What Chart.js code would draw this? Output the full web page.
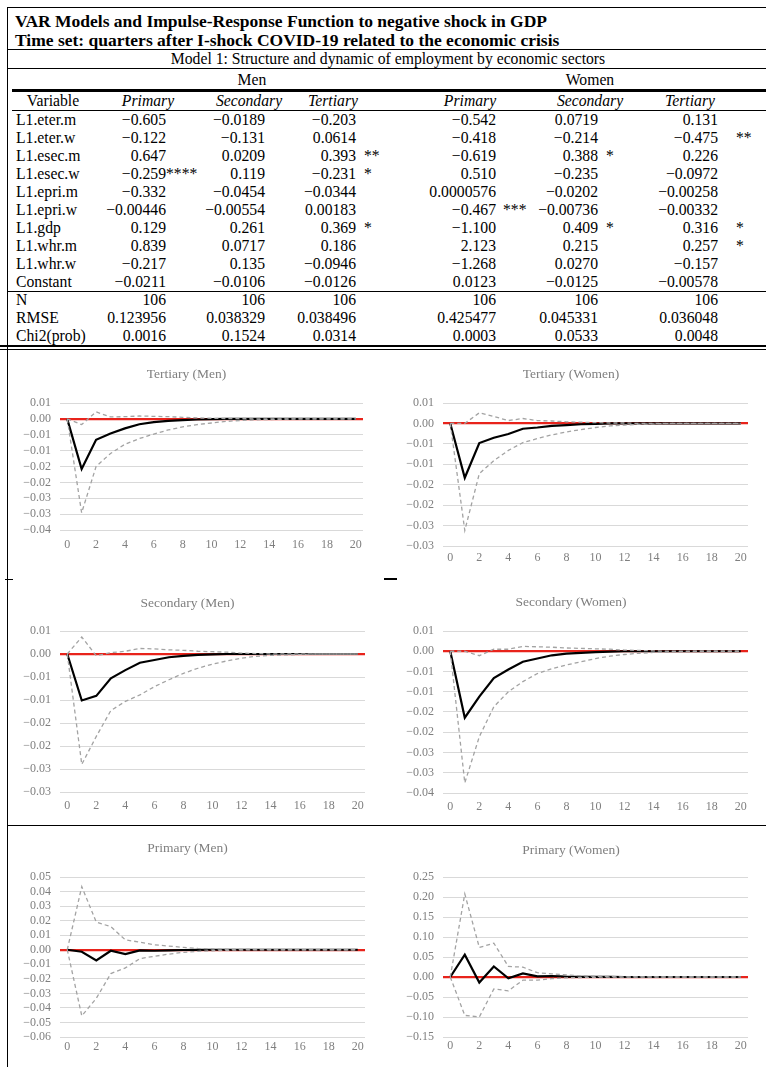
<!DOCTYPE html>
<html>
<head>
<meta charset="utf-8">
<script src="https://cdn.jsdelivr.net/npm/chart.js@4.4.1/dist/chart.umd.min.js"></script>
<style>
  html, body { margin: 0; padding: 0; background: #fff; }
  body { width: 766px; height: 1067px; position: relative; overflow: hidden;
         font-family: "Liberation Serif", "Times New Roman", serif; color: #000; }
  .t { position: absolute; white-space: nowrap; height: 20px; line-height: 20px; }
  .rule { position: absolute; background: #000; }
  canvas { position: absolute; }
</style>
</head>
<body>
<script>
// ---------- regression table ----------
const rowLabels = ["L1.eter.m", "L1.eter.w", "L1.esec.m", "L1.esec.w", "L1.epri.m",
                   "L1.epri.w", "L1.gdp", "L1.whr.m", "L1.whr.w", "Constant"];
const statLabels = ["N", "RMSE", "Chi2(prob)"];
const sectorHeads = ["Primary", "Secondary", "Tertiary", "Primary", "Secondary", "Tertiary"];

const menPrimary     = ["\u22120.605", "\u22120.122", "0.647", "\u22120.259", "\u22120.332", "\u22120.00446", "0.129", "0.839", "\u22120.217", "\u22120.0211"];
const menSecondary   = ["\u22120.0189", "\u22120.131", "0.0209", "0.119", "\u22120.0454", "\u22120.00554", "0.261", "0.0717", "0.135", "\u22120.0106"];
const menTertiary    = ["\u22120.203", "0.0614", "0.393", "\u22120.231", "\u22120.0344", "0.00183", "0.369", "0.186", "\u22120.0946", "\u22120.0126"];
const womenPrimary   = ["\u22120.542", "\u22120.418", "\u22120.619", "0.510", "0.0000576", "\u22120.467", "\u22121.100", "2.123", "\u22121.268", "0.0123"];
const womenSecondary = ["0.0719", "\u22120.214", "0.388", "\u22120.235", "\u22120.0202", "\u22120.00736", "0.409", "0.215", "0.0270", "\u22120.0125"];
const womenTertiary  = ["0.131", "\u22120.475", "0.226", "\u22120.0972", "\u22120.00258", "\u22120.00332", "0.316", "0.257", "\u22120.157", "\u22120.00578"];

const starsMenPrimary     = ["", "", "", "****", "", "", "", "", "", ""];
const starsMenSecondary   = ["", "", "", "", "", "", "", "", "", ""];
const starsMenTertiary    = ["", "", "**", "*", "", "", "*", "", "", ""];
const starsWomenPrimary   = ["", "", "", "", "", "***", "", "", "", ""];
const starsWomenSecondary = ["", "", "*", "", "", "", "*", "", "", ""];
const starsWomenTertiary  = ["", "**", "", "", "", "", "*", "*", "", ""];

const obsN  = ["106", "106", "106", "106", "106", "106"];
const rmse  = ["0.123956", "0.038329", "0.038496", "0.425477", "0.045331", "0.036048"];
const chi2p = ["0.0016", "0.1524", "0.0314", "0.0003", "0.0533", "0.0048"];

// ---------- impulse responses (quarters 0..20) ----------
const horizons = ["0","1","2","3","4","5","6","7","8","9","10","11","12","13","14","15","16","17","18","19","20"];

const tertiaryMenIrf  = [0, -0.0158, -0.0066, -0.0046, -0.0030, -0.0017, -0.0010, -0.0006, -0.0004, -0.0002, -0.0001, 0, 0, 0, 0, 0, 0, 0, 0, 0, 0];
const tertiaryMenLow  = [0, -0.0296, -0.0150, -0.0109, -0.0080, -0.0062, -0.0048, -0.0035, -0.0025, -0.0018, -0.0013, -0.0008, -0.0005, -0.0003, -0.0002, -0.0001, 0, 0, 0, 0, 0];
const tertiaryMenHigh = [0, -0.0018, 0.0022, 0.0006, 0.0007, 0.0009, 0.0008, 0.0007, 0.0005, 0.0003, 0.0002, 0.0001, 0.0001, 0, 0, 0, 0, 0, 0, 0, 0];

const tertiaryWomenIrf  = [0, -0.0133, -0.0048, -0.0035, -0.0026, -0.0013, -0.0010, -0.0006, -0.0004, -0.0002, -0.0001, 0, 0, 0, 0, 0, 0, 0, 0, 0, 0];
const tertiaryWomenLow  = [0, -0.0262, -0.0123, -0.0091, -0.0066, -0.0047, -0.0037, -0.0028, -0.0021, -0.0015, -0.0010, -0.0006, -0.0004, -0.0002, -0.0001, 0, 0, 0, 0, 0, 0];
const tertiaryWomenHigh = [0, 0, 0.0026, 0.0017, 0.0007, 0.0012, 0.0007, 0.0006, 0.0004, 0.0003, 0.0002, 0.0001, 0.0001, 0, 0, 0, 0, 0, 0, 0, 0];

const secondaryMenIrf  = [0, -0.0101, -0.0091, -0.0053, -0.0035, -0.0019, -0.0013, -0.0007, -0.0004, -0.0002, -0.0001, 0, 0, 0, 0, 0, 0, 0, 0, 0, 0];
const secondaryMenLow  = [0, -0.0240, -0.0179, -0.0123, -0.0103, -0.0089, -0.0071, -0.0056, -0.0042, -0.0031, -0.0022, -0.0015, -0.0009, -0.0005, -0.0003, -0.0002, -0.0001, 0, 0, 0, 0];
const secondaryMenHigh = [0, 0.0037, -0.0004, 0.0003, 0.0006, 0.0012, 0.0011, 0.0009, 0.0008, 0.0006, 0.0005, 0.0004, 0.0002, 0.0001, 0, 0, 0, 0, 0, 0, 0];

const secondaryWomenIrf  = [0, -0.0164, -0.0112, -0.0066, -0.0045, -0.0026, -0.0018, -0.0010, -0.0006, -0.0004, -0.0002, -0.0001, 0, 0, 0, 0, 0, 0, 0, 0, 0];
const secondaryWomenLow  = [0, -0.0325, -0.0211, -0.0137, -0.0100, -0.0075, -0.0055, -0.0043, -0.0034, -0.0026, -0.0018, -0.0012, -0.0008, -0.0005, -0.0003, -0.0002, -0.0001, 0, 0, 0, 0];
const secondaryWomenHigh = [0, 0, -0.0011, 0.0005, 0.0005, 0.0012, 0.0011, 0.0010, 0.0008, 0.0007, 0.0006, 0.0005, 0.0003, 0.0002, 0.0001, 0, 0, 0, 0, 0, 0];

const primaryMenIrf  = [0, -0.0014, -0.0073, -0.0007, -0.0030, -0.0005, -0.0007, -0.0004, -0.0002, -0.0001, 0, 0, 0, 0, 0, 0, 0, 0, 0, 0, 0];
const primaryMenLow  = [0, -0.0455, -0.0334, -0.0164, -0.0125, -0.0061, -0.0045, -0.0030, -0.0018, -0.0011, -0.0007, -0.0004, -0.0002, -0.0001, 0, 0, 0, 0, 0, 0, 0];
const primaryMenHigh = [0, 0.0434, 0.0189, 0.0159, 0.0068, 0.0052, 0.0034, 0.0025, 0.0016, 0.0009, 0.0005, 0.0003, 0.0002, 0.0001, 0, 0, 0, 0, 0, 0, 0];

const primaryWomenIrf  = [0, 0.0558, -0.0140, 0.0263, -0.0033, 0.0090, 0.0016, 0.0025, 0.0010, 0.0005, 0.0002, 0.0001, 0, 0, 0, 0, 0, 0, 0, 0, 0];
const primaryWomenLow  = [0, -0.0960, -0.1000, -0.0300, -0.0345, -0.0080, -0.0080, -0.0040, -0.0020, -0.0012, -0.0006, -0.0003, -0.0001, 0, 0, 0, 0, 0, 0, 0, 0];
const primaryWomenHigh = [0, 0.2077, 0.0739, 0.0846, 0.0263, 0.0246, 0.0107, 0.0080, 0.0050, 0.0030, 0.0015, 0.0008, 0.0004, 0.0002, 0.0001, 0, 0, 0, 0, 0, 0];

// value axes: [min, max, step]
const tertiaryMenAxis    = [-0.035, 0.005, 0.005];
const tertiaryWomenAxis  = [-0.030, 0.005, 0.005];
const secondaryMenAxis   = [-0.030, 0.005, 0.005];
const secondaryWomenAxis = [-0.035, 0.005, 0.005];
const primaryMenAxis     = [-0.06, 0.05, 0.01];
const primaryWomenAxis   = [-0.15, 0.25, 0.05];

// ---------- page helpers ----------
function addText(str, x, cy, align, css) {
  const d = document.createElement('div');
  d.className = 't';
  d.textContent = str;
  d.style.top = (cy - 10) + 'px';
  if (align === 'left') { d.style.left = x + 'px'; }
  else if (align === 'right') { d.style.left = (x - 300) + 'px'; d.style.width = '300px'; d.style.textAlign = 'right'; }
  else { d.style.left = (x - 300) + 'px'; d.style.width = '600px'; d.style.textAlign = 'center'; }
  Object.assign(d.style, css || {});
  document.body.appendChild(d);
}
function addRule(x, y, w, h) {
  const r = document.createElement('div');
  r.className = 'rule';
  Object.assign(r.style, { left: x + 'px', top: y + 'px', width: w + 'px', height: h + 'px' });
  document.body.appendChild(r);
}

const bodyFont = { fontSize: '15.7px' };
const titleFont = { fontSize: '17.5px', fontWeight: 'bold' };

// frame and rules
addRule(7, 7, 759, 1);
addRule(7, 7, 1, 1060);
addRule(7, 49, 759, 1);
addRule(7, 68, 759, 1);
addRule(12, 89, 754, 3);
addRule(12, 110, 754, 1);
addRule(7, 291, 759, 1);
addRule(0, 345, 766, 1.5);
addRule(0, 348.5, 766, 1.5);
addRule(5, 579, 8, 1);
addRule(384, 578, 13, 1.5);
addRule(7, 825, 759, 1);

// headings
addText("VAR Models and Impulse-Response Function to negative shock in GDP", 15, 21, 'left', titleFont);
addText("Time set: quarters after I-shock COVID-19 related to the economic crisis", 15, 40, 'left', titleFont);
addText("Model 1: Structure and dynamic of employment by economic sectors", 388, 59, 'center', bodyFont);
addText("Men", 252, 80, 'center', bodyFont);
addText("Women", 590, 80, 'center', bodyFont);

addText("Variable", 53, 101, 'center', bodyFont);
const headCenters = [148, 249, 333, 470, 590, 690];
sectorHeads.forEach((h, i) => addText(h, headCenters[i], 101, 'center', Object.assign({ fontStyle: 'italic' }, bodyFont)));

const valueRight = [166, 265, 356, 496, 598, 718];
const starLeft   = [166, 272, 364, 503, 606, 736];
const columns = [menPrimary, menSecondary, menTertiary, womenPrimary, womenSecondary, womenTertiary];
const stars = [starsMenPrimary, starsMenSecondary, starsMenTertiary, starsWomenPrimary, starsWomenSecondary, starsWomenTertiary];

rowLabels.forEach((lab, r) => {
  const cy = 120 + r * 18;
  addText(lab, 16, cy, 'left', bodyFont);
  columns.forEach((col, c) => {
    addText(col[r], valueRight[c], cy, 'right', bodyFont);
    if (stars[c][r]) addText(stars[c][r], starLeft[c], cy, 'left', bodyFont);
  });
});
[obsN, rmse, chi2p].forEach((vals, r) => {
  const cy = 300 + r * 18;
  addText(statLabels[r], 16, cy, 'left', bodyFont);
  vals.forEach((v, c) => addText(v, valueRight[c], cy, 'right', bodyFont));
});

// ---------- impulse-response charts ----------
const GREY_TEXT = '#7f7f7f';
const ZERO_RED = '#e8231b';

function excelTwoDecimals(v) {
  const n = Math.round(Math.abs(v) * 1000);
  const h = Math.floor((n + 5) / 10);
  const s = (h / 100).toFixed(2);
  return (v < 0 && h > 0) ? '\u2212' + s : s;
}

function drawIrf(title, box, irf, low, high, axis) {
  const cv = document.createElement('canvas');
  cv.width = box.w; cv.height = box.h;
  cv.style.left = box.left + 'px'; cv.style.top = box.top + 'px';
  cv.style.width = box.w + 'px'; cv.style.height = box.h + 'px';
  document.body.appendChild(cv);

  const [yMin, yMax, yStep] = axis;
  const count = Math.round((yMax - yMin) / yStep);
  const tickValues = [];
  for (let i = 0; i <= count; i++) tickValues.push(Math.round((yMin + i * yStep) * 1e6) / 1e6);

  const dashed = { borderColor: '#a3a3a3', borderWidth: 1.3, borderDash: [4, 3], order: 0 };
  new Chart(cv, {
    type: 'line',
    data: {
      labels: horizons,
      datasets: [
        Object.assign({ label: 'upper', data: high }, dashed),
        Object.assign({ label: 'lower', data: low }, dashed),
        { label: 'irf', data: irf, borderColor: '#000', borderWidth: 2.2, order: 1 }
      ]
    },
    options: {
      responsive: false,
      animation: false,
      devicePixelRatio: 1,
      layout: { padding: { left: 0, right: box.padRight, top: 0, bottom: 0 } },
      elements: { point: { radius: 0 }, line: { tension: 0 } },
      plugins: {
        legend: { display: false },
        tooltip: { enabled: false },
        title: {
          display: true, text: title, color: GREY_TEXT,
          font: { family: 'Liberation Serif', size: 13.5, weight: 'normal' },
          padding: { top: 0, bottom: box.titleGap }
        }
      },
      scales: {
        x: {
          type: 'category', offset: true,
          grid: { display: false, drawTicks: false, tickLength: 0 }, border: { display: false },
          ticks: {
            autoSkip: false, maxRotation: 0, padding: box.xPad, color: GREY_TEXT,
            font: { family: 'Liberation Serif', size: 12 },
            callback: (v, i) => (i % 2 === 0 ? horizons[i] : '')
          },
          afterFit: s => { s.height = 30; }
        },
        y: {
          min: yMin, max: yMax,
          border: { display: false },
          grid: {
            drawTicks: false, tickLength: 0,
            color: c => (c.tick && c.tick.value === 0 ? ZERO_RED : '#d9d9d9'),
            lineWidth: c => (c.tick && c.tick.value === 0 ? 2.2 : 1)
          },
          ticks: {
            autoSkip: false, padding: 9, color: GREY_TEXT,
            font: { family: 'Liberation Serif', size: 12 },
            callback: v => excelTwoDecimals(v)
          },
          afterBuildTicks: s => { s.ticks = tickValues.map(v => ({ value: v })); },
          afterFit: s => { s.width = box.yw; }
        }
      }
    }
  });
}

// box.h = plot bottom - canvas top + 30 (x-axis band)
drawIrf('Tertiary (Men)',     { left: 10,  top: 366, w: 375, h: 194, yw: 50, padRight: 22, titleGap: 20.8, xPad: 8 },
        tertiaryMenIrf, tertiaryMenLow, tertiaryMenHigh, tertiaryMenAxis);
drawIrf('Tertiary (Women)',   { left: 394, top: 366, w: 372, h: 210, yw: 49, padRight: 18, titleGap: 20.8, xPad: 5 },
        tertiaryWomenIrf, tertiaryWomenLow, tertiaryWomenHigh, tertiaryWomenAxis);
drawIrf('Secondary (Men)',    { left: 10,  top: 595, w: 375, h: 227, yw: 50, padRight: 20, titleGap: 19.8, xPad: 7 },
        secondaryMenIrf, secondaryMenLow, secondaryMenHigh, secondaryMenAxis);
drawIrf('Secondary (Women)',  { left: 394, top: 594, w: 372, h: 229, yw: 49, padRight: 18, titleGap: 20.8, xPad: 7 },
        secondaryWomenIrf, secondaryWomenLow, secondaryWomenHigh, secondaryWomenAxis);
drawIrf('Primary (Men)',      { left: 10,  top: 840, w: 375, h: 227, yw: 50, padRight: 20, titleGap: 20.8, xPad: 3 },
        primaryMenIrf, primaryMenLow, primaryMenHigh, primaryMenAxis);
drawIrf('Primary (Women)',    { left: 394, top: 842, w: 372, h: 225, yw: 49, padRight: 18, titleGap: 18.8, xPad: 2 },
        primaryWomenIrf, primaryWomenLow, primaryWomenHigh, primaryWomenAxis);
</script>
</body>
</html>
